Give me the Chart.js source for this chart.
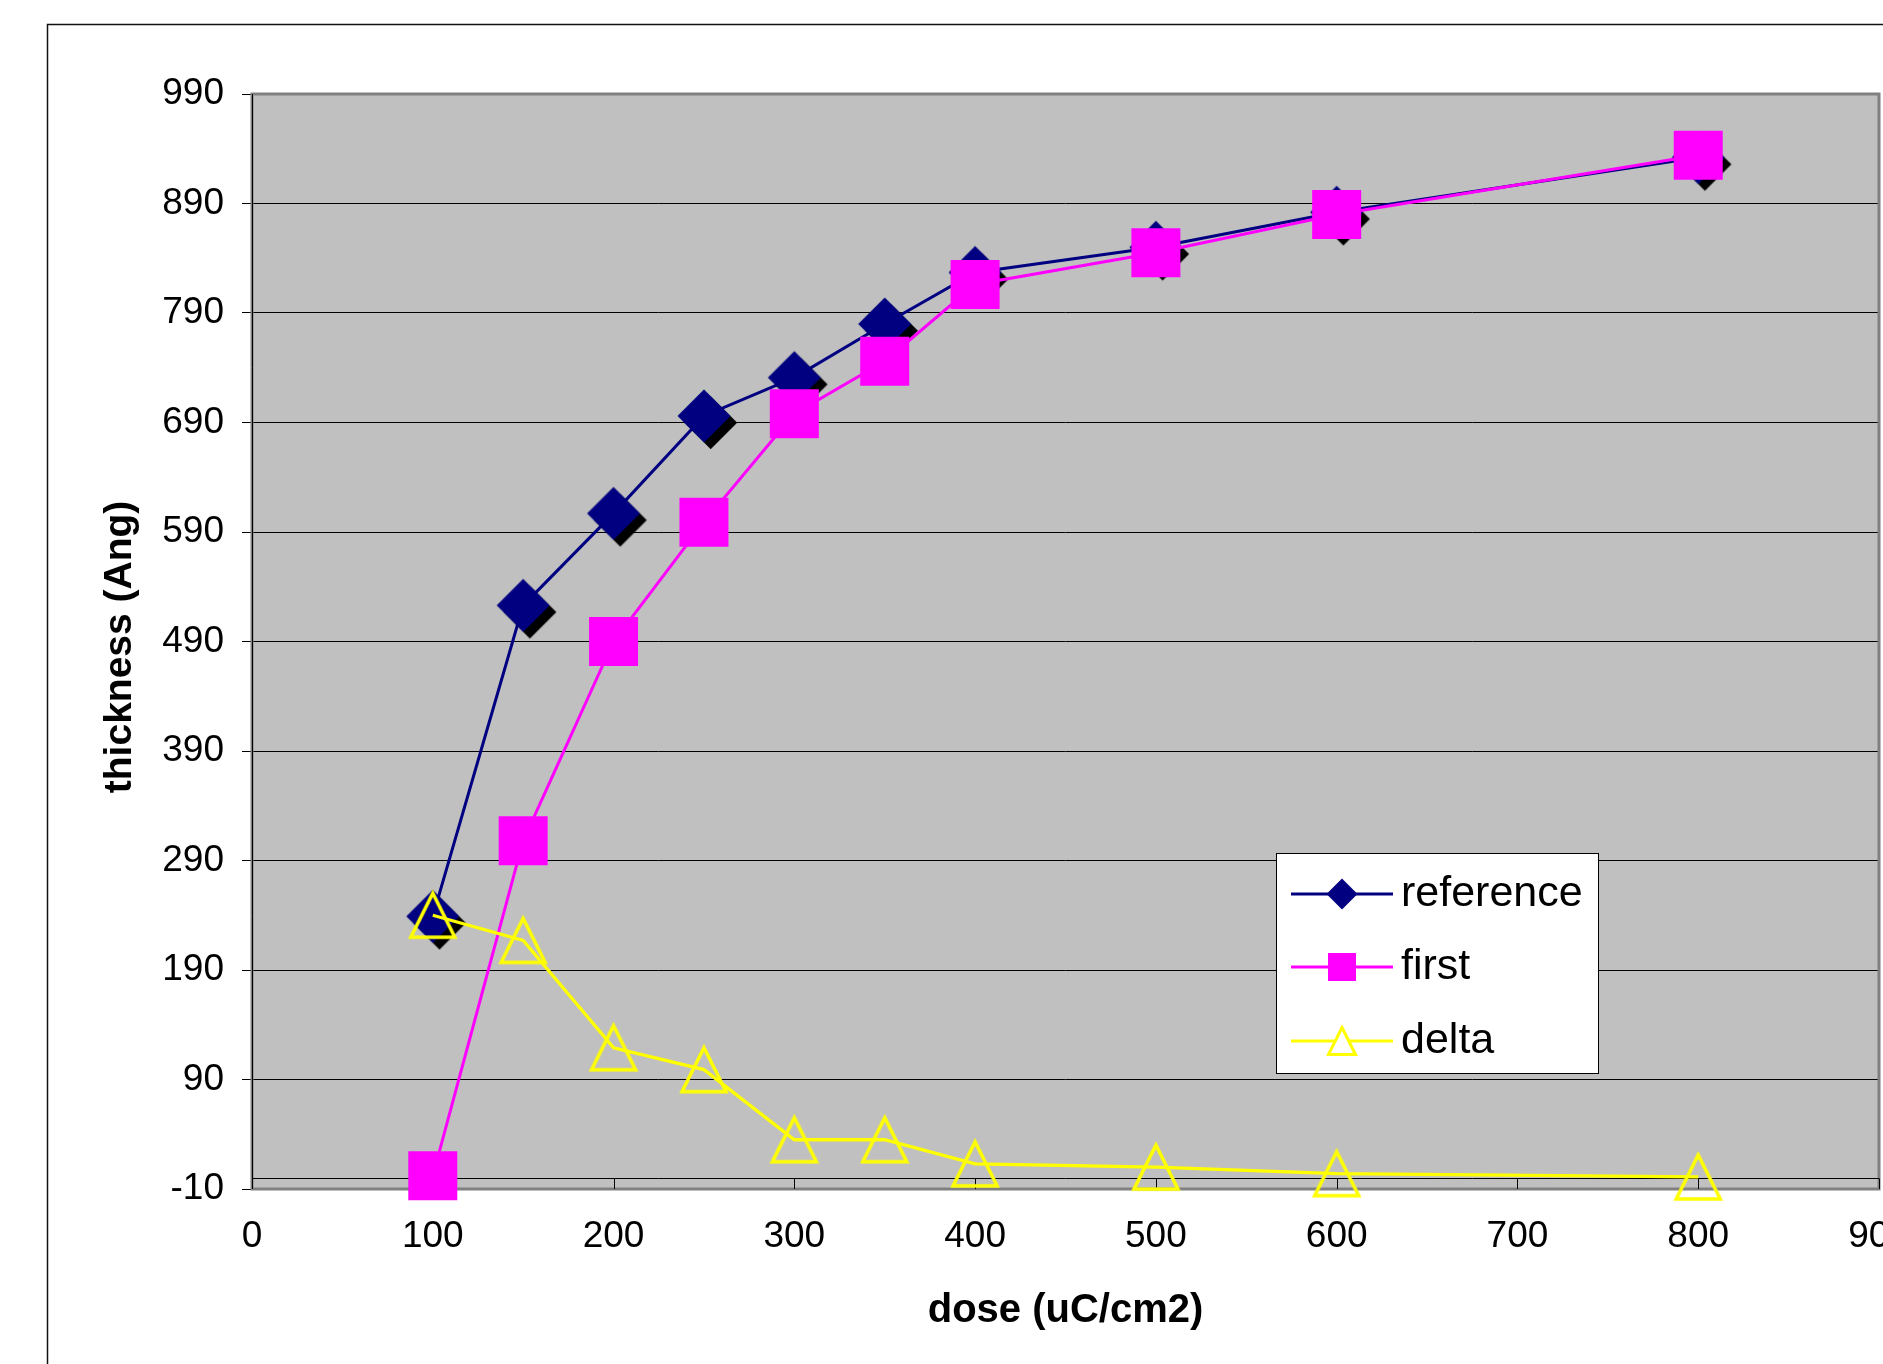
<!DOCTYPE html>
<html>
<head>
<meta charset="utf-8">
<script src="https://cdn.jsdelivr.net/npm/chart.js@4.4.0/dist/chart.umd.min.js"></script>
<style>
  html, body { margin: 0; padding: 0; background: #ffffff; overflow: hidden; width: 1883px; height: 1364px; }
  canvas { display: block; }
</style>
</head>
<body>
<canvas id="c" width="1943" height="1364"></canvas>
<script>
// ---- data ----
const dose      = [100, 150, 200, 250, 300, 350, 400, 500, 600, 800];
const reference = [239, 523, 607, 696, 731, 780, 827, 850, 882, 932];
const first     = [2,   308, 490, 599, 698, 746, 816, 845, 880, 934];
const delta     = [240, 217, 119, 99,  35,  35,  13,  10,  4,   1];
const xTickValues = [0, 100, 200, 300, 400, 500, 600, 700, 800, 900];
const yTickValues = [-10, 90, 190, 290, 390, 490, 590, 690, 790, 890, 990];
const seriesNames = ['reference', 'first', 'delta'];
const xTitle = 'dose (uC/cm2)';
const yTitle = 'thickness (Ang)';

// ---- styles ----
const FONT = "'Liberation Sans', Arial, Helvetica, sans-serif";
const NAVY = '#000080', MAGENTA = '#FF00FF', YELLOW = '#FFFF00';

function diamondPath(g, x, y, r) {
  g.beginPath();
  g.moveTo(x, y - r); g.lineTo(x + r, y); g.lineTo(x, y + r); g.lineTo(x - r, y);
  g.closePath();
}
function trianglePath(g, x, y, w, h) {
  g.beginPath();
  g.moveTo(x, y - h / 2); g.lineTo(x + w / 2, y + h / 2); g.lineTo(x - w / 2, y + h / 2);
  g.closePath();
}
function makeDiamond(r, off) {
  const c = document.createElement('canvas');
  const half = Math.ceil(r + off + 2);
  c.width = c.height = half * 2;
  const g = c.getContext('2d');
  g.fillStyle = '#000000'; diamondPath(g, half + off, half + off, r); g.fill();
  g.fillStyle = NAVY; diamondPath(g, half, half, r); g.fill();
  return c;
}
function makeTriangle(w, h, lw) {
  const c = document.createElement('canvas');
  const W = 2 * Math.ceil((w + lw * 4) / 2), H = 2 * Math.ceil((h + lw * 4) / 2);
  c.width = W; c.height = H;
  const g = c.getContext('2d');
  g.strokeStyle = YELLOW; g.lineWidth = lw;
  trianglePath(g, W / 2, H / 2, w, h); g.stroke();
  return c;
}
const diamondImg = makeDiamond(26.5, 6.7);
const triangleImg = makeTriangle(44, 44, 3.5);

const pts = (ys) => dose.map((d, i) => ({ x: d, y: ys[i] }));

const decor = {
  id: 'decor',
  beforeDraw(chart) {
    const { ctx, chartArea: a } = chart;
    ctx.save();
    ctx.strokeStyle = '#111111'; ctx.lineWidth = 1.5;
    ctx.strokeRect(47.5, 24.5, 4000, 4000);
    ctx.fillStyle = '#C0C0C0';
    ctx.fillRect(a.left, a.top, a.right - a.left, a.bottom - a.top);
    ctx.restore();
  },
  beforeDatasetsDraw(chart) {
    const { ctx, chartArea: a, scales: { x, y } } = chart;
    ctx.save();
    ctx.strokeStyle = '#808080'; ctx.lineWidth = 3;
    ctx.strokeRect(a.left, a.top, a.right - a.left, a.bottom - a.top);
    ctx.strokeStyle = '#000000'; ctx.lineWidth = 1;
    ctx.beginPath();
    ctx.moveTo(Math.round(a.left) + 0.5, a.top); ctx.lineTo(Math.round(a.left) + 0.5, a.bottom);
    const y0 = Math.round(y.getPixelForValue(0)) + 0.5;
    ctx.moveTo(a.left, y0); ctx.lineTo(a.right, y0);
    xTickValues.forEach(v => {
      const px = Math.round(x.getPixelForValue(v)) + 0.5;
      ctx.moveTo(px, y0); ctx.lineTo(px, a.bottom);
    });
    ctx.stroke();
    ctx.restore();
  },
  afterDatasetsDraw(chart) {
    const { ctx } = chart;
    const box = { x: 1276, y: 853, w: 322, h: 220 };
    const rows = [894, 967, 1041];
    const lx1 = 1291, lx2 = 1393, mx = 1342, tx = 1401;
    ctx.save();
    ctx.fillStyle = '#ffffff';
    ctx.fillRect(box.x, box.y, box.w, box.h);
    ctx.strokeStyle = '#000000'; ctx.lineWidth = 1;
    ctx.strokeRect(box.x + 0.5, box.y + 0.5, box.w, box.h);
    chart.data.datasets.forEach((ds, i) => {
      const ry = rows[i];
      ctx.strokeStyle = ds.borderColor; ctx.lineWidth = 3;
      ctx.beginPath(); ctx.moveTo(lx1, ry); ctx.lineTo(lx2, ry); ctx.stroke();
      if (i === 0) {
        ctx.fillStyle = NAVY; diamondPath(ctx, mx, ry, 15.5); ctx.fill();
      } else if (i === 1) {
        ctx.fillStyle = MAGENTA; ctx.fillRect(mx - 14, ry - 14, 28, 28);
      } else {
        ctx.fillStyle = '#ffffff'; trianglePath(ctx, mx, ry, 27, 27); ctx.fill();
        ctx.strokeStyle = YELLOW; ctx.lineWidth = 3; ctx.stroke();
      }
      ctx.fillStyle = '#000000';
      ctx.font = '43px ' + FONT;
      ctx.textAlign = 'left'; ctx.textBaseline = 'middle';
      ctx.fillText(ds.label, tx, ry);
    });
    ctx.restore();
  }
};

new Chart(document.getElementById('c'), {
  type: 'line',
  data: {
    datasets: [
      { label: seriesNames[0], data: pts(reference), borderColor: NAVY, borderWidth: 3,
        pointStyle: diamondImg, pointRadius: 27, tension: 0, fill: false, order: 3, clip: false },
      { label: seriesNames[1], data: pts(first), borderColor: MAGENTA, borderWidth: 3,
        pointStyle: 'rect', pointRadius: 34.65, pointBackgroundColor: MAGENTA, pointBorderColor: MAGENTA,
        pointBorderWidth: 0, tension: 0, fill: false, order: 2, clip: false },
      { label: seriesNames[2], data: pts(delta), borderColor: YELLOW, borderWidth: 3.3,
        pointStyle: triangleImg, pointRadius: 25, tension: 0, fill: false, order: 1, clip: false }
    ]
  },
  options: {
    responsive: false,
    animation: false,
    events: [],
    layout: { padding: { top: 94, right: 64, left: 0, bottom: 0 } },
    plugins: { legend: { display: false }, tooltip: { enabled: false }, title: { display: false } },
    scales: {
      x: {
        type: 'linear', min: 0, max: 900,
        afterBuildTicks: s => { s.ticks = xTickValues.map(v => ({ value: v })); },
        afterFit: s => { s.height = 175; s.paddingLeft = 0; s.paddingRight = 0; },
        grid: { display: false, drawTicks: false },
        border: { display: false },
        ticks: { color: '#000', font: { family: FONT, size: 37 }, padding: 26, maxRotation: 0, autoSkip: false,
                 callback: v => String(v) },
        title: { display: true, text: xTitle, color: '#000',
                 font: { family: FONT, size: 40, weight: 'bold' }, padding: { top: 0, bottom: 29 } }
      },
      y: {
        type: 'linear', min: -10, max: 990,
        afterBuildTicks: s => { s.ticks = yTickValues.map(v => ({ value: v })); },
        afterFit: s => { s.width = 252; s.paddingTop = 0; s.paddingBottom = 0; },
        grid: { color: '#000', lineWidth: 1, tickLength: 10, drawTicks: true },
        border: { display: false },
        ticks: { color: '#000', font: { family: FONT, size: 37 }, padding: 18, autoSkip: false,
                 callback: v => String(v) },
        title: { display: true, text: yTitle + ' ', color: '#000',
                 font: { family: FONT, size: 39, weight: 'bold' }, padding: { top: 97, bottom: 0 } }
      }
    }
  },
  plugins: [decor]
});
</script>
</body>
</html>
